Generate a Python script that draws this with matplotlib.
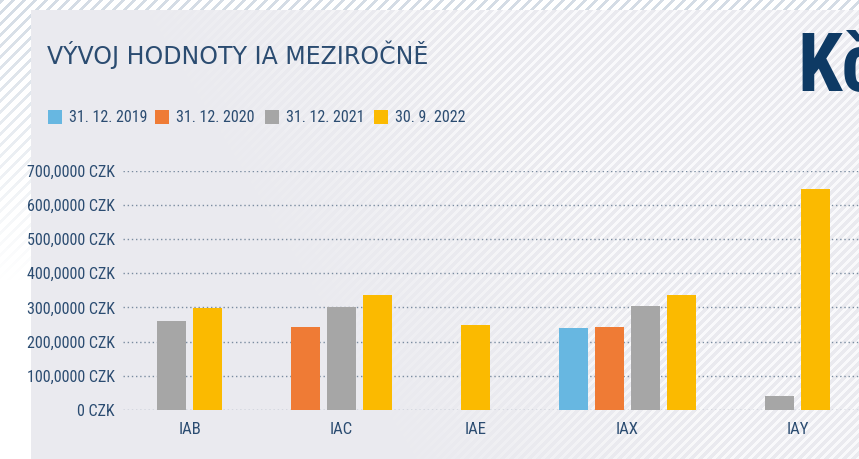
import numpy as np
import matplotlib
matplotlib.use("Agg")
import matplotlib.pyplot as plt
from matplotlib import font_manager
from matplotlib.patches import Rectangle

# ---------------- data ----------------
categories = ["IAB", "IAC", "IAE", "IAX", "IAY"]
series_labels = ["31. 12. 2019", "31. 12. 2020", "31. 12. 2021", "30. 9. 2022"]
values_2019 = [None, None, None, 240, None]
values_2020 = [None, 243, None, 243, None]
values_2021 = [260, 301, None, 304, 41]
values_2022 = [299, 336, 248, 336, 646]
y_ticks = [0, 100, 200, 300, 400, 500, 600, 700]
y_tick_labels = ["0 CZK", "100,0000 CZK", "200,0000 CZK", "300,0000 CZK",
                 "400,0000 CZK", "500,0000 CZK", "600,0000 CZK", "700,0000 CZK"]
title_text = "VÝVOJ HODNOTY IA MEZIROČNĚ"
logo_text = "Kč"

series_values = [values_2019, values_2020, values_2021, values_2022]
series_colors = ["#67B7E1", "#EF7B35", "#A6A6A6", "#FBBA00"]

# ---------------- fonts ----------------
available = {f.name for f in font_manager.fontManager.ttflist}
def pick(*names):
    for n in names:
        if n in available:
            return n
    return "DejaVu Sans"
narrow = pick("Liberation Sans Narrow", "Roboto Condensed", "Liberation Sans")
title_font = pick("DejaVu Sans")

W, H = 859, 459
fig = plt.figure(figsize=(W / 100, H / 100), dpi=100)

# ---------------- background (decoration) ----------------
yy, xx = np.mgrid[0:H, 0:W].astype(float)
img = np.ones((H, W, 3))
card_x0, card_y0 = 31, 10
card = (xx >= card_x0) & (yy >= card_y0)
# outer white with grey diagonal stripes fading downwards
outer_str = (((xx + yy) % 11) < 3.5).astype(float)
fade_out = np.clip(1.0 - yy / 280.0, 0, 1)
stripe_col = np.array([212, 220, 229]) / 255.0
for c in range(3):
    img[..., c] = 1.0 * (1 - outer_str * fade_out) + stripe_col[c] * outer_str * fade_out
# card: light grey with white diagonal stripes, stronger towards upper right
card_base = np.array([234, 234, 239]) / 255.0
card_str = (((xx + yy) % 9) < 4).astype(float)
fade_in = np.clip((xx - 0.6 * yy - 120.0) / 450.0, 0, 0.75)
for c in range(3):
    v = card_base[c] * (1 - card_str * fade_in) + 1.0 * card_str * fade_in
    img[..., c] = np.where(card, v, img[..., c])
bg = fig.add_axes([0, 0, 1, 1])
bg.imshow(img, aspect="auto", extent=(0, W, H, 0), interpolation="nearest")
bg.set_xlim(0, W)
bg.set_ylim(H, 0)
bg.axis("off")

# ---------------- title, logo, legend ----------------
text_col = "#2B4C71"
fig.text(47 / W, 1 - 64 / H, title_text, fontsize=17, color=text_col,
         family=title_font, ha="left", va="baseline")
fig.text(797 / W, 1 - 91 / H, logo_text, fontsize=58, color="#0E3A64",
         family=narrow, weight="bold", ha="left", va="baseline")

leg_x = [48, 155, 265, 374]
for lx, lab, col in zip(leg_x, series_labels, series_colors):
    fig.patches.append(Rectangle((lx / W, 1 - 124 / H), 14 / W, 14 / H,
                                 transform=fig.transFigure, facecolor=col,
                                 edgecolor="none", zorder=5))
    fig.text((lx + 21) / W, 1 - 117.5 / H, lab, fontsize=11.5, color=text_col,
             family=narrow, ha="left", va="center")

# ---------------- chart ----------------
slot = 36.0
pad = 62.0 / slot
counts = [sum(v[i] is not None for v in series_values) for i in range(len(categories))]
total = sum(counts) + pad * len(categories)
ax_left, ax_bottom, ax_top = 122.5, 410.0, 170.7
ax = fig.add_axes([ax_left / W, 1 - ax_bottom / H, total * slot / W,
                   (ax_bottom - ax_top) / H])
ax.set_facecolor("none")

start = 0.0
centers = []
for i, cat in enumerate(categories):
    n = counts[i]
    k = 0
    for vals, col in zip(series_values, series_colors):
        v = vals[i]
        if v is None:
            continue
        ax.bar(start + pad / 2 + k + 0.5, v, width=0.8, color=col, zorder=3)
        k += 1
    centers.append(start + (n + pad) / 2)
    start += n + pad

ax.set_xlim(0, total)
ax.set_ylim(0, 700)
ax.set_yticks(y_ticks)
ax.set_yticklabels(y_tick_labels)
ax.set_xticks(centers)
ax.set_xticklabels(categories)
ax.tick_params(axis="both", length=0, colors=text_col)
ax.tick_params(axis="y", pad=5.5, labelsize=11.5)
ax.tick_params(axis="x", pad=9, labelsize=12)
for lab in ax.get_xticklabels() + ax.get_yticklabels():
    lab.set_family(narrow)
ax.yaxis.grid(True, linestyle=(0, (1, 2)), color="#7A8CA0", linewidth=1, zorder=1)
ax.xaxis.grid(False)
for s in ax.spines.values():
    s.set_visible(False)
ax.set_axisbelow(True)

fig.savefig("out.png", dpi=100)
